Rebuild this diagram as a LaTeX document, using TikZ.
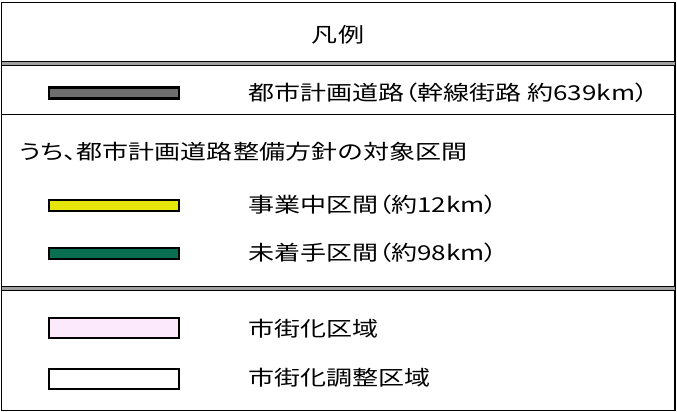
\documentclass[tikz,border=0pt]{standalone}
\usepackage{fontspec}
\newfontfamily\jpfont[FakeStretch=1.27,RawFeature=+palt]{Noto Sans CJK JP}
\newfontfamily\jpfontfull[FakeStretch=1.27]{Noto Sans CJK JP}
\definecolor{roadgray}{HTML}{6E6E6E}
\definecolor{workyellow}{HTML}{E6E60A}
\definecolor{todogreen}{HTML}{087050}
\definecolor{urbanpink}{HTML}{FCE9FB}
\definecolor{midgray}{HTML}{A0A0A0}
\tikzset{
  frameline/.style={draw=black,line width=1.8pt},
  sepline/.style={draw=black,line width=1.4pt},
  legendbar/.style={draw=black,line width=2.4pt,minimum width=130pt,inner sep=0pt,anchor=west},
  thinbar/.style={legendbar,minimum height=11pt},
  areabar/.style={legendbar,minimum height=20.5pt},
  lbl/.style={anchor=west,inner sep=0pt,font=\jpfont\fontsize{20.5}{24}\selectfont},
}
\begin{document}
\begin{tikzpicture}[x=1pt,y=-1pt]
\useasboundingbox (0,0) rectangle (677,412);
\fill[white] (0,0) rectangle (677,412);
% outer frame
\draw[frameline] (1.5,2.5) rectangle (675,410.5);
% header double separator
\fill[midgray] (1.5,61.5) rectangle (675,65.5);
\draw[sepline] (1.5,61.5) -- (675,61.5);
\draw[sepline] (1.5,65.5) -- (675,65.5);
% single separator
\draw[sepline] (1.5,114.5) -- (675,114.5);
% lower double separator
\fill[midgray] (1.5,286.5) rectangle (675,290.5);
\draw[sepline] (1.5,286.5) -- (675,286.5);
\draw[sepline] (1.5,290.5) -- (675,290.5);

\node[lbl,anchor=center] (title) at (338,35) {凡例};

\node[thinbar,fill=roadgray] (roadbar) at (48,93) {};
\node[lbl] (roadlbl) at (248,93) {都市計画道路（幹線街路 約639km）};

\node[lbl] (sublbl) at (19,152) {うち、\jpfontfull 都市計画道路整備方針の対象区間};

\node[thinbar,fill=workyellow] (workbar) at (48,205.5) {};
\node[lbl] (worklbl) at (248,205) {事業中区間（約12km）};

\node[thinbar,fill=todogreen] (todobar) at (48,253.5) {};
\node[lbl] (todolbl) at (248,253) {未着手区間（約98km）};

\node[areabar,fill=urbanpink] (urbanbar) at (48,328) {};
\node[lbl] (urbanlbl) at (248,329) {市街化区域};

\node[areabar,fill=white] (ctrlbar) at (48,379) {};
\node[lbl] (ctrllbl) at (248,378) {市街化調整区域};
\end{tikzpicture}
\end{document}
